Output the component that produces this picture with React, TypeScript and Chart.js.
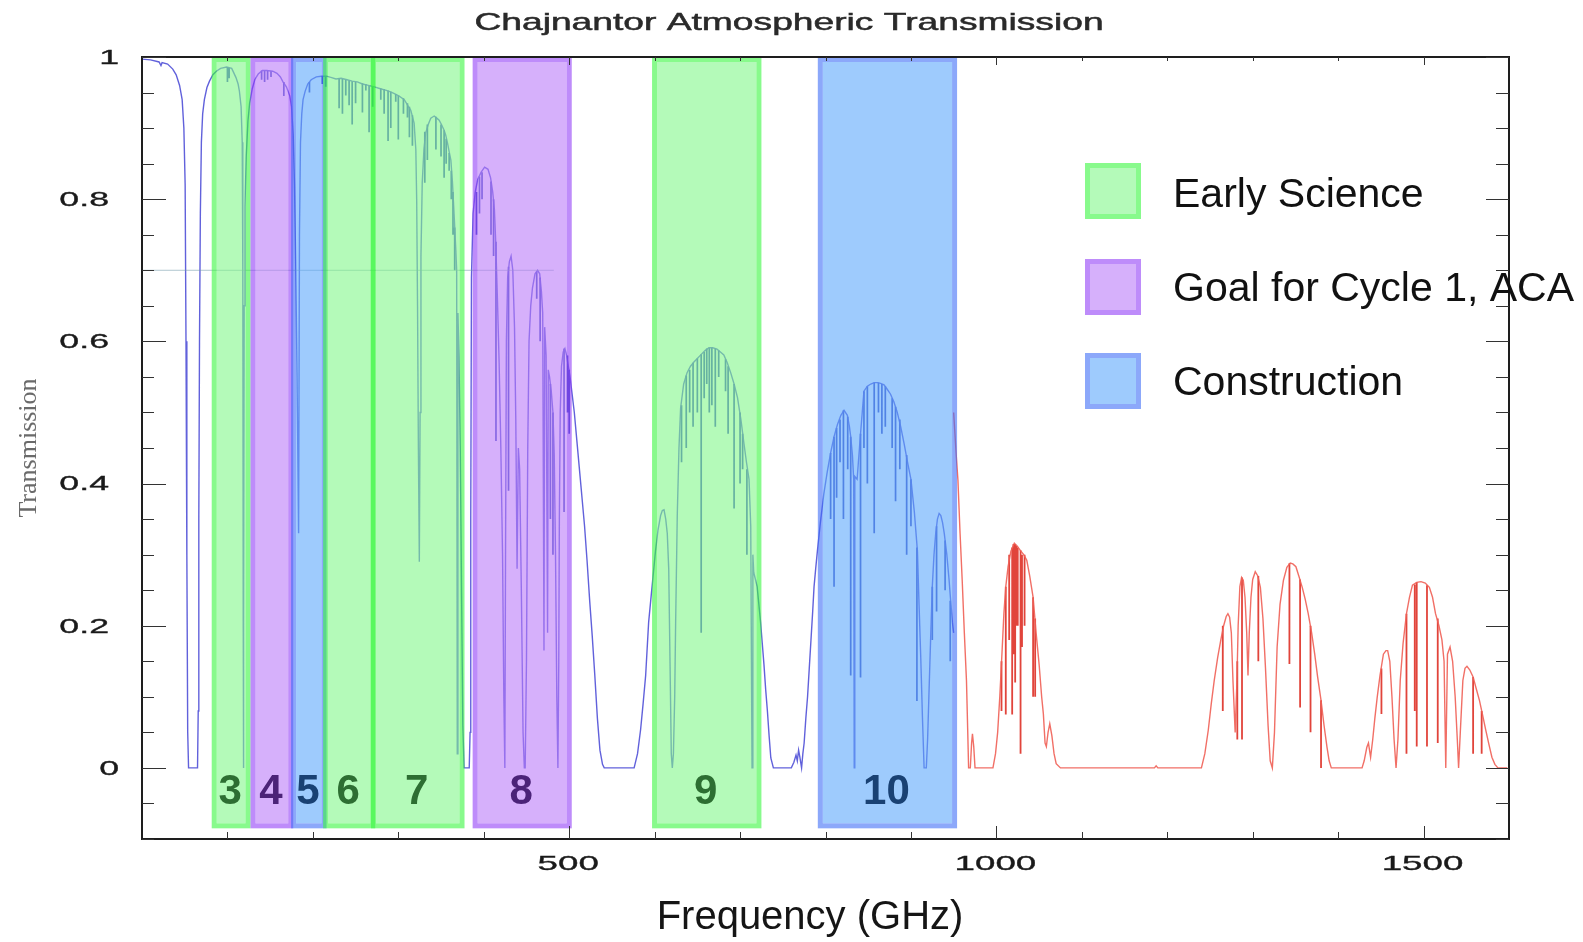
import { useEffect, useRef } from 'react';
import { Chart, registerables } from 'chart.js';

Chart.register(...registerables);

const W = 1583;
const H = 942;

// ---------- Transmission curve (frequency GHz, transmission) ----------
const window1: [number, number][] = [
  [0, 0.997], [10, 0.996], [20, 0.993], [22.2, 0.988], [23.5, 0.992], [30, 0.99], [36, 0.983], [40, 0.975],
  [44, 0.96], [47, 0.94], [49, 0.9], [50.5, 0.82], [51.5, 0.6], [52.5, 0.3], [53.5, 0.05], [54.5, 0],
  [60, 0], [65, 0], [65.8, 0.08], [66.5, 0.35], [67.3, 0.6], [68.3, 0.78], [69.5, 0.88], [71, 0.92],
  [73, 0.94], [76, 0.957], [79, 0.966], [83, 0.975], [87, 0.98], [92, 0.984], [99, 0.986], [105, 0.984],
  [110, 0.971], [112.5, 0.962], [114, 0.952], [116, 0.93], [117.3, 0.88], [118, 0.7], [118.5, 0.2], [118.75, 0],
];
const window2: [number, number][] = [
  [119, 0.2], [119.6, 0.65], [120.5, 0.79], [122, 0.86], [124, 0.91], [126, 0.935], [129, 0.955], [132, 0.968],
  [136, 0.976], [141, 0.981], [146, 0.981], [153, 0.98], [158, 0.977], [162, 0.972], [165, 0.965], [169, 0.958],
  [171, 0.952], [173, 0.945], [175, 0.93], [177, 0.89], [178.5, 0.82], [180, 0.7], [181.5, 0.55], [183.3, 0.33],
  [184.3, 0.75], [185.5, 0.88], [187, 0.92], [188.5, 0.94],
];
const window3: [number, number][] = [
  [191, 0.952], [194, 0.962], [198, 0.968], [204, 0.972], [210, 0.973], [216, 0.973], [222, 0.971], [227, 0.969],
  [233, 0.97], [240, 0.968], [246, 0.966], [252, 0.965], [258, 0.962], [265, 0.96], [272, 0.958], [280, 0.955],
  [286, 0.953], [291, 0.951], [296, 0.948], [301, 0.945], [307, 0.94], [311, 0.932], [314.6, 0.925], [318.5, 0.907],
  [320.5, 0.87], [321.5, 0.8], [322.5, 0.65], [323.5, 0.45], [324.6, 0.29], [325.5, 0.5], [326.5, 0.72], [328, 0.823],
];
const window4: [number, number][] = [
  [330, 0.87], [332, 0.893], [335, 0.905], [338, 0.914], [342, 0.917], [345, 0.914], [347.8, 0.911], [350.5, 0.905],
  [353.6, 0.897], [355.5, 0.89], [357.6, 0.879], [359.5, 0.867], [361.5, 0.855], [363.4, 0.823], [365.4, 0.776],
  [367.3, 0.729], [368.3, 0.7], [369, 0.02], [369.8, 0.64], [371, 0.58], [372.5, 0.45], [374, 0.25], [375.5, 0.06],
  [377, 0], [383, 0],
];
const window5: [number, number][] = [
  [384, 0.05], [384.8, 0.35], [385.6, 0.69], [387.5, 0.78], [390, 0.81], [393, 0.828], [397, 0.838], [401, 0.845],
  [405, 0.842], [408, 0.83], [410.5, 0.81], [412.5, 0.785], [414, 0.74], [416, 0.66], [418, 0.57], [420, 0.45],
  [422, 0.3], [423.5, 0.1], [424.7, 0], [425.5, 0.3], [426.5, 0.6], [428, 0.69], [430, 0.712], [432, 0.72],
  [434, 0.7], [436, 0.62], [437.5, 0.49], [439, 0.28], [440.5, 0.45], [442, 0.42], [444, 0.25], [446, 0.05],
  [447.5, 0], [448.5, 0], [450, 0.15], [451.5, 0.45], [453, 0.6], [455, 0.65], [457, 0.675], [460, 0.695],
  [463, 0.7], [465.5, 0.695], [467.5, 0.67], [469, 0.64], [470.5, 0.165], [471.3, 0.62], [473, 0.58], [474.7, 0.19],
  [475.5, 0.56], [477, 0.55], [479, 0.53], [481, 0.5], [482.5, 0.44], [484, 0.3], [485.5, 0.1], [486.8, 0],
  [487.8, 0.15], [488.5, 0.35], [489.5, 0.5], [491, 0.565], [493, 0.585], [495, 0.59], [497, 0.58], [499, 0.565],
  [501, 0.55], [503, 0.53], [506, 0.5], [509, 0.46], [512, 0.42], [515, 0.38], [518, 0.34], [521, 0.29],
  [524, 0.235], [527, 0.185], [530, 0.13], [533, 0.07], [536, 0.025], [539, 0.005], [541, 0],
];
const window6: [number, number][] = [
  [560, 0], [576, 0], [580, 0.02], [583.6, 0.054], [586.5, 0.09], [589.5, 0.13], [593, 0.205], [597, 0.255],
  [601, 0.305], [604, 0.335], [607, 0.355], [609, 0.362], [611, 0.363], [613, 0.35], [614.8, 0.33], [616.5, 0.28],
  [618, 0.15], [619.5, 0.02], [620.7, 0], [622, 0.02], [623.5, 0.1], [624.6, 0.205], [626.5, 0.355], [628.5, 0.45],
  [630.4, 0.506], [634, 0.54], [638, 0.556], [642, 0.565], [646, 0.571], [650, 0.576], [654, 0.581], [659, 0.587],
  [663.6, 0.591], [668, 0.591], [673, 0.589], [677, 0.585], [681, 0.581], [685, 0.57], [689, 0.556], [693, 0.54],
  [697, 0.521], [701, 0.49], [704.6, 0.456], [707.5, 0.43], [710.5, 0.406], [712.5, 0.34], [714, 0], [715, 0.3],
  [716, 0.275], [718, 0.265], [720, 0.255], [722, 0.23], [724, 0.205], [726, 0.175], [728, 0.145], [730, 0.11],
  [732, 0.08], [734, 0.045], [736, 0.014], [739, 0],
];
const window7: [number, number][] = [
  [760, 0], [763, 0.008], [765.5, 0.018], [767, 0.01], [768.5, 0.025], [770, 0.015], [772, 0], [773.5, 0.02],
  [775, 0.035], [777, 0.07], [779, 0.1], [781, 0.14], [783, 0.18], [785, 0.22], [786.6, 0.255], [788.5, 0.28],
  [790.5, 0.305], [794, 0.345], [798, 0.385], [802, 0.416], [806, 0.443], [810, 0.466], [814, 0.483], [818, 0.496],
  [821.7, 0.503], [825.6, 0.496], [828, 0.48], [829.5, 0.466], [831.5, 0.44], [833, 0.406], [833.6, 0], [834.3, 0.41],
  [837, 0.406], [841, 0.47], [845, 0.53], [849, 0.537], [853, 0.54], [857, 0.542], [860.7, 0.542], [864.5, 0.541],
  [868.5, 0.539], [872, 0.533], [876, 0.526], [880, 0.515], [884, 0.5], [888, 0.48], [892, 0.456], [896, 0.43],
  [900, 0.406], [904, 0.36], [907.6, 0.305], [909.5, 0.23], [911.5, 0.155], [913.5, 0.07], [915.4, 0], [918, 0],
  [919.5, 0.04], [921, 0.1], [923, 0.18], [925, 0.255], [927, 0.3], [929, 0.33], [931, 0.35], [933, 0.358],
  [935, 0.355], [937, 0.345], [939, 0.33], [942, 0.3], [944.6, 0.265], [946.5, 0.235], [948.5, 0.205], [950, 0.19],
];
// absorption lines: [frequency, top, bottom]
const blueLines: [number, number, number][] = [
  [100, 0.986, 0.965], [102, 0.985, 0.97], [140, 0.981, 0.968], [143.5, 0.981, 0.965], [147, 0.981, 0.968],
  [151, 0.98, 0.972], [166, 0.965, 0.945], [196, 0.965, 0.95], [211, 0.973, 0.962], [215, 0.973, 0.958],
  [230.7, 0.97, 0.928], [234.6, 0.969, 0.92], [238.5, 0.968, 0.946], [242.4, 0.967, 0.932], [246, 0.966, 0.905],
  [250, 0.965, 0.935], [258, 0.963, 0.922], [262, 0.962, 0.953], [265.8, 0.96, 0.894], [270, 0.958, 0.93],
  [279.5, 0.956, 0.94], [283.4, 0.955, 0.92], [288, 0.953, 0.882], [291.2, 0.951, 0.9], [297, 0.948, 0.937],
  [300, 0.946, 0.884], [306, 0.942, 0.92], [310.7, 0.935, 0.915], [313, 0.93, 0.887], [316.5, 0.918, 0.875],
  [331, 0.895, 0.823], [334, 0.905, 0.855], [344, 0.916, 0.87], [350, 0.905, 0.86], [353.6, 0.897, 0.83],
  [356, 0.885, 0.85], [359.5, 0.865, 0.84], [362, 0.84, 0.8], [364, 0.81, 0.75], [366, 0.76, 0.7],
  [391.5, 0.81, 0.75], [395, 0.832, 0.78], [398, 0.838, 0.8], [408.5, 0.825, 0.75], [411.5, 0.8, 0.72],
  [414.3, 0.74, 0.46], [429, 0.705, 0.39], [462, 0.698, 0.66], [466, 0.69, 0.6], [478, 0.54, 0.35],
  [481, 0.5, 0.3], [494, 0.59, 0.36], [498, 0.58, 0.5], [500, 0.56, 0.47],
  [631.5, 0.51, 0.43], [637, 0.552, 0.45], [641, 0.56, 0.5], [645, 0.57, 0.48], [650, 0.576, 0.5],
  [654.5, 0.582, 0.19], [658, 0.585, 0.52], [661, 0.59, 0.54], [664, 0.591, 0.5], [667, 0.591, 0.51],
  [671, 0.59, 0.48], [675, 0.587, 0.55], [683, 0.575, 0.53], [686, 0.565, 0.47], [693, 0.54, 0.365],
  [700, 0.5, 0.4], [703, 0.47, 0.42], [708, 0.42, 0.3],
  [806, 0.443, 0.35], [810, 0.466, 0.255], [813, 0.478, 0.38], [817, 0.49, 0.43], [821, 0.503, 0.35],
  [826, 0.494, 0.42], [829.5, 0.466, 0.13], [841, 0.47, 0.127], [845, 0.53, 0.45], [849, 0.537, 0.4],
  [857, 0.542, 0.33], [862, 0.542, 0.5], [866, 0.54, 0.47], [870, 0.537, 0.48], [878, 0.52, 0.45],
  [882, 0.508, 0.375], [887, 0.49, 0.42], [895, 0.44, 0.3], [900, 0.406, 0.34], [907, 0.31, 0.094],
  [925, 0.255, 0.18], [930, 0.34, 0.22], [940, 0.32, 0.25], [946, 0.235, 0.15],
];

const redCurve: [number, number][] = [
  [950, 0.5], [951.5, 0.47], [953, 0.44], [955, 0.405], [957.5, 0.33], [960, 0.264], [962.5, 0.19], [965, 0.123],
  [966.5, 0.05], [967.5, 0], [969.5, 0], [971, 0.035], [972, 0.048], [973.5, 0.03], [975, 0], [996, 0],
  [999, 0.02], [1001.5, 0.05], [1004, 0.1], [1006.5, 0.16], [1008.8, 0.217], [1011, 0.255], [1013.7, 0.283],
  [1017, 0.305], [1021, 0.316], [1024.5, 0.312], [1028, 0.306], [1032, 0.3], [1035.6, 0.292], [1039, 0.27],
  [1043, 0.24], [1046.5, 0.19], [1050, 0.146], [1053, 0.1], [1055, 0.076], [1057, 0.035], [1058.5, 0.03],
  [1060.5, 0.05], [1062.5, 0.062], [1065, 0.045], [1067.5, 0.02], [1070, 0.006], [1075, 0], [1185, 0],
  [1187, 0.003], [1189, 0], [1240, 0], [1244, 0.02], [1248, 0.053], [1251.5, 0.09], [1255, 0.123], [1259, 0.155],
  [1262.7, 0.18], [1266, 0.2], [1269, 0.213], [1271, 0.217], [1273, 0.212], [1275, 0.19], [1277, 0.12],
  [1279.5, 0.05], [1281.5, 0.12], [1283, 0.2], [1285, 0.255], [1287, 0.268], [1289, 0.264], [1291, 0.24],
  [1293, 0.19], [1294.5, 0.13], [1296, 0.19], [1298, 0.24], [1300, 0.265], [1303, 0.276], [1306, 0.27],
  [1309, 0.254], [1312, 0.21], [1315, 0.14], [1318, 0.06], [1320.5, 0.01], [1323, 0], [1325.5, 0.05],
  [1328.6, 0.17], [1332, 0.23], [1336, 0.264], [1340, 0.282], [1344, 0.288], [1347, 0.287], [1350.6, 0.283],
  [1354, 0.27], [1358, 0.254], [1361.5, 0.237], [1365, 0.217], [1369, 0.19], [1372.6, 0.16], [1376, 0.128],
  [1380, 0.095], [1383.5, 0.06], [1387, 0.029], [1389.5, 0.01], [1392, 0], [1428, 0], [1430.5, 0.01],
  [1433.6, 0.029], [1435.5, 0.035], [1438, 0.015], [1440.5, 0.04], [1443, 0.07], [1445.8, 0.1], [1449, 0.13],
  [1453, 0.16], [1456, 0.165], [1458, 0.165], [1460.5, 0.15], [1463, 0.1], [1465.5, 0.04], [1467.8, 0],
  [1470, 0.04], [1472.7, 0.123], [1476, 0.175], [1480, 0.217], [1483.5, 0.24], [1487, 0.257], [1492, 0.261],
  [1497, 0.262], [1502, 0.26], [1506.8, 0.254], [1510.5, 0.24], [1514, 0.217], [1518, 0.2], [1521.5, 0.18],
  [1524, 0.15], [1526, 0], [1528, 0.16], [1531, 0.17], [1534, 0.15], [1537, 0.1], [1539.5, 0.04], [1541, 0],
  [1543, 0.05], [1546, 0.123], [1548.5, 0.14], [1550.8, 0.143], [1554, 0.138], [1558, 0.128], [1561.5, 0.112],
  [1565.4, 0.095], [1569, 0.075], [1572.8, 0.053], [1576.5, 0.033], [1580, 0.015], [1583.5, 0.005], [1587, 0],
  [1598, 0],
];
const redLines: [number, number, number][] = [
  [1006, 0.15, 0.08], [1011, 0.255, 0.075], [1015, 0.3, 0.18], [1018.5, 0.31, 0.075], [1020, 0.315, 0.16],
  [1022, 0.315, 0.12], [1023.4, 0.312, 0.2], [1025, 0.31, 0.2], [1028.3, 0.306, 0.02], [1030, 0.3, 0.17],
  [1033, 0.3, 0.2], [1043, 0.24, 0.1], [1045.4, 0.21, 0.1], [1265, 0.2, 0.08], [1282, 0.15, 0.04],
  [1287.5, 0.268, 0.04], [1306.6, 0.27, 0.15], [1343, 0.288, 0.146], [1355.5, 0.265, 0.085],
  [1367.7, 0.2, 0.05], [1380, 0.095, 0], [1450.7, 0.14, 0.076], [1480, 0.217, 0.02], [1489.7, 0.258, 0.08],
  [1492, 0.261, 0.03], [1504, 0.257, 0.03], [1516.6, 0.21, 0.035], [1558, 0.128, 0.02], [1568, 0.08, 0.02],
];

// faint reference line at 0.7
const refFreq = [0, 482];
const refValue = [0.7, 0.7];

// ---------- ALMA bands ----------
const bandNames = ['3', '4', '5', '6', '7', '8', '9', '10'];
const bandStart = [81.6, 127, 174.5, 212, 268, 387, 597, 791];
const bandEnd = [127, 177, 216, 273, 377.5, 503, 725, 954];
const bandKind = ['early', 'goal', 'construction', 'early', 'early', 'goal', 'early', 'construction'];
const bandBottom = -0.085;
const bandLabelLevel = -0.032;

const legendLabels = ['Early Science', 'Goal for Cycle 1, ACA', 'Construction'];
const legendKinds = ['early', 'goal', 'construction'];

// ---------- axes ----------
const xMin = 0;
const xMax = 1600;
const yMin = -0.1;
const yMax = 1;
const xTickValues = [500, 1000, 1500];
const xTickLabels = ['500', '1000', '1500'];
const yTickValues = [0, 0.2, 0.4, 0.6, 0.8, 1];
const yTickLabels = ['0', '0.2', '0.4', '0.6', '0.8', '1'];

const kindStyle: Record<string, { fill: string; border: string; text: string }> = {
  early: { fill: 'rgba(130,247,138,0.6)', border: 'rgba(57,247,63,0.6)', text: '#2d6e32' },
  goal: { fill: 'rgba(187,123,248,0.6)', border: 'rgba(147,63,247,0.6)', text: '#4b2378' },
  construction: { fill: 'rgba(93,168,252,0.6)', border: 'rgba(63,110,247,0.6)', text: '#194173' },
};

const toPts = (arr: [number, number][]) => arr.map(([x, y]) => ({ x, y }));
const toLines = (arr: [number, number, number][]) =>
  arr.flatMap(([f, top, bot]) => [{ x: f, y: top }, { x: f, y: bot }, { x: f, y: null as any }]);

function stretchText(
  ctx: CanvasRenderingContext2D,
  text: string,
  x: number,
  y: number,
  sx: number,
  align: CanvasTextAlign,
  stroke = 0,
) {
  ctx.save();
  ctx.translate(x, y);
  ctx.scale(sx, 1);
  ctx.textAlign = align;
  ctx.fillText(text, 0, 0);
  if (stroke > 0) {
    ctx.lineWidth = stroke;
    ctx.strokeStyle = ctx.fillStyle as string;
    ctx.strokeText(text, 0, 0);
  }
  ctx.restore();
}

const decorPlugin = {
  id: 'decor',
  afterDatasetsDraw(chart: any) {
    const ctx: CanvasRenderingContext2D = chart.ctx;
    const xs = chart.scales.x;
    const ys = chart.scales.y;
    const bw = 5;
    ctx.save();
    for (let i = 0; i < bandNames.length; i++) {
      const st = kindStyle[bandKind[i]];
      const x0 = xs.getPixelForValue(bandStart[i]);
      const x1 = xs.getPixelForValue(bandEnd[i]);
      const yT = ys.getPixelForValue(yMax);
      const yB = ys.getPixelForValue(bandBottom);
      ctx.fillStyle = st.fill;
      ctx.fillRect(x0 + bw, yT + bw, x1 - x0 - 2 * bw, yB - yT - 2 * bw);
      ctx.strokeStyle = st.border;
      ctx.lineWidth = bw;
      ctx.strokeRect(x0 + bw / 2, yT + bw / 2, x1 - x0 - bw, yB - yT - bw);
    }
    ctx.font = 'bold 42px "Liberation Sans", Arial, sans-serif';
    ctx.textAlign = 'center';
    ctx.textBaseline = 'middle';
    for (let i = 0; i < bandNames.length; i++) {
      const st = kindStyle[bandKind[i]];
      const xc = xs.getPixelForValue((bandStart[i] + bandEnd[i]) / 2);
      ctx.fillStyle = st.text;
      ctx.fillText(bandNames[i], xc - 1, ys.getPixelForValue(bandLabelLevel) + 2);
    }
    ctx.restore();
  },
  afterDraw(chart: any) {
    const ctx: CanvasRenderingContext2D = chart.ctx;
    const xs = chart.scales.x;
    const ys = chart.scales.y;
    const { left, right, top, bottom } = chart.chartArea;
    ctx.save();
    // frame
    ctx.strokeStyle = '#1e1e1e';
    ctx.lineWidth = 2;
    ctx.strokeRect(left, top, right - left, bottom - top);
    // inward ticks
    ctx.lineWidth = 1;
    ctx.strokeStyle = '#333';
    ctx.beginPath();
    for (let i = -2; i <= 20; i++) {
      const v = i * 0.05;
      const y = Math.round(ys.getPixelForValue(v)) + 0.5;
      const major = i >= 0 && i % 4 === 0;
      ctx.moveTo(left, y);
      ctx.lineTo(left + (major ? 24 : 12), y);
      ctx.moveTo(right, y);
      ctx.lineTo(right - (major ? 23 : 13), y);
    }
    for (let f = 100; f < xMax; f += 100) {
      const x = Math.round(xs.getPixelForValue(f)) + 0.5;
      const major = f % 500 === 0;
      ctx.moveTo(x, bottom);
      ctx.lineTo(x, bottom - (major ? 13 : 7));
      ctx.moveTo(x, top);
      ctx.lineTo(x, top + (major ? 8 : 4));
    }
    ctx.stroke();

    // tick labels (horizontally stretched like the original)
    ctx.fillStyle = '#1a1a1a';
    ctx.font = '21px "Liberation Sans", Arial, sans-serif';
    ctx.textBaseline = 'middle';
    for (let i = 0; i < yTickValues.length; i++) {
      const lab = yTickLabels[i];
      const rx = lab.length > 1 ? 109 : 119;
      stretchText(ctx, lab, rx, ys.getPixelForValue(yTickValues[i]) + 1, 1.7, 'right', 0.35);
    }
    for (let i = 0; i < xTickValues.length; i++) {
      stretchText(ctx, xTickLabels[i], xs.getPixelForValue(xTickValues[i]) - 1, bottom + 25, 1.75, 'center', 0.35);
    }

    // title
    ctx.fillStyle = '#2a2a2a';
    ctx.font = '24px "Liberation Sans", Arial, sans-serif';
    stretchText(ctx, 'Chajnantor Atmospheric Transmission', 789, 23, 1.55, 'center', 0.5);

    // x-axis title
    ctx.fillStyle = '#151515';
    ctx.font = '40px "Liberation Sans", Arial, sans-serif';
    ctx.textAlign = 'center';
    ctx.fillText('Frequency (GHz)', 810, 918);

    // legend
    const legendTop = [163, 259, 353];
    const legendTextY = [196, 290, 384];
    const bw = 5;
    for (let i = 0; i < legendLabels.length; i++) {
      const st = kindStyle[legendKinds[i]];
      const x0 = 1085;
      const y0 = legendTop[i];
      const s = 56;
      ctx.fillStyle = st.fill;
      ctx.fillRect(x0 + bw, y0 + bw, s - 2 * bw, s - 2 * bw);
      ctx.strokeStyle = st.border;
      ctx.lineWidth = bw;
      ctx.strokeRect(x0 + bw / 2, y0 + bw / 2, s - bw, s - bw);
      ctx.fillStyle = '#111';
      ctx.font = '41px "Liberation Sans", Arial, sans-serif';
      ctx.textAlign = 'left';
      ctx.textBaseline = 'middle';
      ctx.fillText(legendLabels[i], 1173, legendTextY[i]);
    }
    ctx.restore();
  },
};

export default function App() {
  const ref = useRef<HTMLCanvasElement | null>(null);
  useEffect(() => {
    if (!ref.current) return;
    const blue = [...window1, ...window2, ...window3, ...window4, ...window5, ...window6, ...window7];
    const chart = new Chart(ref.current, {
      type: 'line',
      data: {
        datasets: [
          {
            data: refFreq.map((x, i) => ({ x, y: refValue[i] })),
            borderColor: 'rgba(110,150,165,0.55)',
            borderWidth: 1,
            pointRadius: 0,
          },
          {
            data: toPts(blue),
            borderColor: 'rgba(80,80,215,0.9)',
            borderWidth: 1.4,
            pointRadius: 0,
            tension: 0,
          },
          {
            data: toLines(blueLines),
            borderColor: 'rgba(40,55,190,0.9)',
            borderWidth: 1.7,
            pointRadius: 0,
            spanGaps: false,
          },
          {
            data: toPts(redCurve),
            borderColor: 'rgba(240,95,85,0.9)',
            borderWidth: 1.4,
            pointRadius: 0,
            tension: 0,
          },
          {
            data: toLines(redLines),
            borderColor: 'rgba(220,35,25,0.85)',
            borderWidth: 1.8,
            pointRadius: 0,
            spanGaps: false,
          },
        ],
      },
      options: {
        animation: false,
        responsive: false,
        devicePixelRatio: 1,
        layout: { padding: { top: 57, right: W - 1509, left: 0, bottom: 0 } },
        plugins: {
          legend: { display: false },
          title: { display: false },
          tooltip: { enabled: false },
        },
        scales: {
          x: {
            type: 'linear',
            min: xMin,
            max: xMax,
            grid: { display: false },
            border: { display: false },
            ticks: { display: false },
            afterFit: (s: any) => {
              s.height = H - 839;
            },
          },
          y: {
            type: 'linear',
            min: yMin,
            max: yMax,
            grid: { display: false },
            border: { display: false },
            ticks: { display: false },
            title: {
              display: true,
              text: 'Transmission',
              color: '#6a6a6a',
              font: { family: '"Liberation Serif", "Times New Roman", serif', size: 26 },
              padding: { top: 14, bottom: 0 },
            },
            afterFit: (s: any) => {
              s.width = 142;
            },
          },
        },
      },
      plugins: [decorPlugin],
    } as any);
    return () => chart.destroy();
  }, []);
  return (
    <div style={{ position: 'fixed', left: 0, top: 0, width: W, height: H, background: '#fff' }}>
      <canvas ref={ref} width={W} height={H} style={{ display: 'block' }} />
    </div>
  );
}
